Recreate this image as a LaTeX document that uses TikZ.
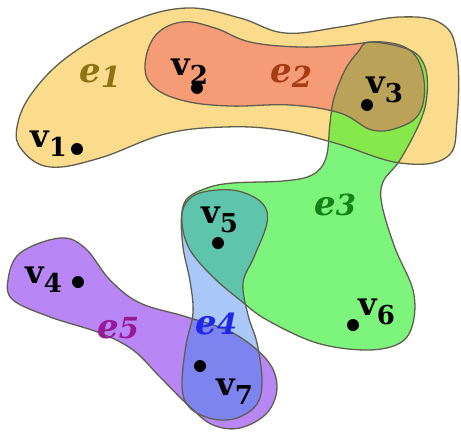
\documentclass[tikz,border=0pt]{standalone}
\usepackage{fontspec}
\setmainfont{DejaVu Serif}
\definecolor{cA}{RGB}{250,220,140}
\definecolor{cB}{RGB}{245,155,118}
\definecolor{cAC}{RGB}{135,232,75}
\definecolor{cABC}{RGB}{186,162,88}
\definecolor{cC}{RGB}{125,245,125}
\definecolor{cCD}{RGB}{95,196,172}
\definecolor{cD}{RGB}{170,200,250}
\definecolor{cE}{RGB}{185,135,245}
\definecolor{cDE}{RGB}{125,132,240}
\definecolor{outl}{RGB}{95,95,80}
\definecolor{tA}{RGB}{140,115,20}
\definecolor{tB}{RGB}{165,60,20}
\definecolor{tC}{RGB}{20,130,20}
\definecolor{tD}{RGB}{30,40,235}
\definecolor{tE}{RGB}{150,25,150}
\newcommand{\vl}[1]{{\fontsize{32}{32}\selectfont\bfseries v}\raisebox{-9pt}{\fontsize{26}{26}\selectfont\bfseries #1}}
\newcommand{\el}[2]{{\fontsize{34}{34}\selectfont\bfseries\itshape e}\raisebox{-#2pt}{\fontsize{29}{29}\selectfont\bfseries\itshape #1}}
\def\Eone{plot[smooth cycle,tension=0.65] coordinates {(17,127) (32,93) (70,55) (130,22) (187,8) (240,18) (285,33) (340,27) (400,17) (442,24) (457,55) (457,120) (447,157) (400,163) (335,143) (280,130) (225,127) (165,134) (100,158) (50,167) (22,150)}}
\def\Etwo{plot[smooth cycle,tension=0.65] coordinates {(145,67) (155,36) (182,22) (215,28) (250,42) (300,47) (345,45) (383,42) (412,52) (424,80) (420,112) (400,127) (372,130) (340,113) (290,105) (230,106) (185,101) (155,88)}}
\def\Ethree{plot[smooth cycle,tension=0.6] coordinates {(370,42) (410,50) (425,67) (427,95) (420,122) (400,160) (383,182) (382,205) (395,248) (413,290) (413,323) (400,343) (367,350) (317,343) (267,320) (240,300) (213,277) (190,250) (182,223) (186,200) (207,188) (233,183) (283,181) (312,175) (326,158) (330,123) (334,98) (345,70) (358,52)}}
\def\Efour{plot[smooth cycle,tension=0.6] coordinates {(217,190) (242,192) (263,204) (267,223) (254,257) (243,283) (248,315) (257,343) (262,380) (257,404) (237,418) (213,419) (190,408) (182,387) (186,345) (193,313) (190,281) (183,247) (182,213) (193,196)}}
\def\Efive{plot[smooth cycle,tension=0.6] coordinates {(8,280) (20,253) (60,238) (85,248) (110,280) (140,303) (187,317) (233,333) (267,360) (277,387) (267,413) (240,428) (213,425) (190,407) (160,377) (133,350) (100,333) (50,317) (13,300)}}
\tikzset{
  outline/.style={draw=outl,line width=1.3pt},
  dot/.style={circle,fill=black,inner sep=0pt,minimum size=12pt},
  lbl/.style={anchor=base west,inner sep=0pt}
}
\begin{document}
\begin{tikzpicture}[x=1pt,y=-1pt]
\useasboundingbox (0,0) rectangle (461,434);
% fills
\fill[cA] \Eone;
\fill[cC] \Ethree;
\fill[cD] \Efour;
\fill[cE] \Efive;
\begin{scope}\clip \Eone; \fill[cB] \Etwo; \end{scope}
\fill[cB] \Etwo;
\begin{scope}\clip \Eone; \fill[cAC] \Ethree; \end{scope}
\begin{scope}\clip \Etwo; \fill[cABC] \Ethree; \end{scope}
\begin{scope}\clip \Ethree; \fill[cCD] \Efour; \end{scope}
\begin{scope}\clip \Efive; \fill[cDE] \Efour; \end{scope}
% outlines
\draw[outline] \Eone;
\draw[outline] \Etwo;
\draw[outline] \Ethree;
\draw[outline] \Efour;
\draw[outline] \Efive;
% vertices
\node[dot] (v1) at (77,149) {};
\node[dot] (v2) at (197,88) {};
\node[dot] (v3) at (367,105) {};
\node[dot] (v4) at (78,282) {};
\node[dot] (v5) at (218,243) {};
\node[dot] (v6) at (353,325) {};
\node[dot] (v7) at (200,366) {};
\node[lbl] (l1) at (30,147) {\vl{1}};
\node[lbl] (l2) at (171,75) {\vl{2}};
\node[lbl] (l3) at (366,93) {\vl{3}};
\node[lbl] (l4) at (25,283) {\vl{4}};
\node[lbl] (l5) at (201,223) {\vl{5}};
\node[lbl] (l6) at (358,315) {\vl{6}};
\node[lbl] (l7) at (216,395) {\vl{7}};
% edge labels
\node[lbl,text=tA] (le1) at (79,82) {\el{1}{5}};
\node[lbl,text=tB] (le2) at (270,82) {\el{2}{5}};
\node[lbl,text=tC] (le3) at (314,215) {\el{3}{0}};
\node[lbl,text=tD] (le4) at (195,334) {\el{4}{0}};
\node[lbl,text=tE] (le5) at (97,338) {\el{5}{0}};
\end{tikzpicture}
\end{document}
